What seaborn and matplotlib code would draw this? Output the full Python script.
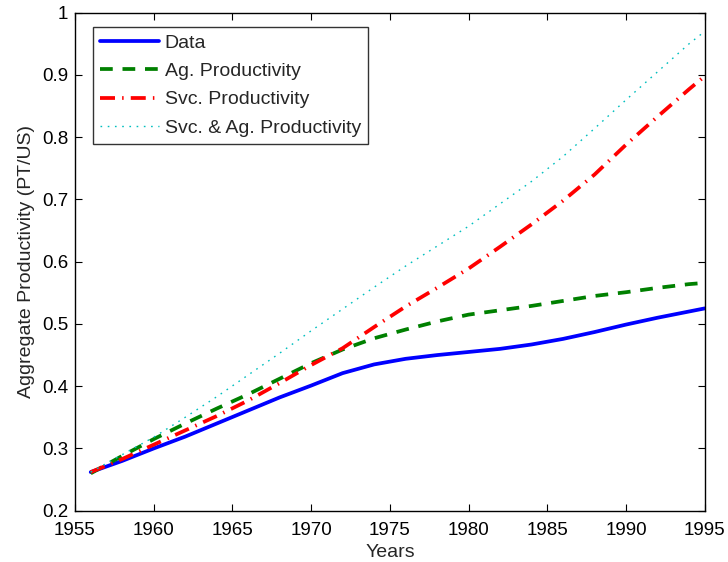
import matplotlib
matplotlib.use("Agg")
import matplotlib.pyplot as plt
import seaborn as sns
import pandas as pd

years = [1956, 1958, 1960, 1962, 1964, 1966, 1968, 1970, 1972, 1974, 1976,
         1978, 1980, 1982, 1984, 1986, 1988, 1990, 1992, 1994, 1995]

data = [0.262, 0.280, 0.300, 0.319, 0.340, 0.361, 0.382, 0.401, 0.421, 0.435, 0.444,
        0.450, 0.455, 0.460, 0.467, 0.476, 0.487, 0.499, 0.510, 0.520, 0.525]

ag_prod = [0.260, 0.288, 0.315, 0.340, 0.364, 0.387, 0.412, 0.437, 0.459, 0.477, 0.491,
           0.504, 0.515, 0.522, 0.529, 0.537, 0.545, 0.551, 0.558, 0.564, 0.566]

svc_prod = [0.262, 0.283, 0.306, 0.329, 0.352, 0.377, 0.405, 0.434, 0.461, 0.495, 0.528,
            0.558, 0.589, 0.624, 0.660, 0.698, 0.740, 0.788, 0.833, 0.877, 0.898]

svc_ag_prod = [0.262, 0.290, 0.318, 0.350, 0.383, 0.418, 0.453, 0.489, 0.524, 0.559, 0.593,
               0.625, 0.657, 0.693, 0.729, 0.769, 0.814, 0.860, 0.905, 0.950, 0.970]

labels = ["Data", "Ag. Productivity", "Svc. Productivity", "Svc. & Ag. Productivity"]
x_ticks = [1955, 1960, 1965, 1970, 1975, 1980, 1985, 1990, 1995]
y_ticks = [0.2, 0.3, 0.4, 0.5, 0.6, 0.7, 0.8, 0.9, 1.0]
y_tick_labels = ["0.2", "0.3", "0.4", "0.5", "0.6", "0.7", "0.8", "0.9", "1"]

sns.set_style("white")
plt.rcParams["font.family"] = ["Liberation Sans", "DejaVu Sans"]

fig = plt.figure(figsize=(7.28, 5.62), dpi=100)
ax = fig.add_axes([0.103, 0.0913, 0.865, 0.886])

series = [
    (data, dict(color=(0, 0, 1), linewidth=2.7, linestyle="-")),
    (ag_prod, dict(color=(0, 0.5, 0), linewidth=2.7, dashes=(3.4, 2.6))),
    (svc_prod, dict(color=(1, 0, 0), linewidth=2.7, dashes=(4.0, 1.9, 0.4, 1.9))),
    (svc_ag_prod, dict(color=(0, 0.75, 0.75), linewidth=1.0, dashes=(1.2, 4.0))),
]

for label, (values, style) in zip(labels, series):
    df = pd.DataFrame({"Years": years, "value": values})
    sns.lineplot(data=df, x="Years", y="value", ax=ax, label=label, **style)

ax.set_xlim(1955, 1995)
ax.set_ylim(0.2, 1.0)
ax.set_xticks(x_ticks)
ax.set_xticklabels([str(t) for t in x_ticks])
ax.set_yticks(y_ticks)
ax.set_yticklabels(y_tick_labels)
ax.set_xlabel("Years", fontsize=14, labelpad=4)
ax.set_ylabel("Aggregate Productivity (PT/US)", fontsize=14, labelpad=5)

ax.tick_params(axis="both", which="both", direction="in", length=5, width=0.8,
               top=True, right=True, bottom=True, left=True, labelsize=13.5,
               colors="black")
ax.tick_params(axis="x", pad=8)
ax.tick_params(axis="y", pad=5)
for spine in ax.spines.values():
    spine.set_visible(True)
    spine.set_color("black")
    spine.set_linewidth(1.0)

leg = ax.legend(loc="upper left", bbox_to_anchor=(0.0286, 0.972), fontsize=14,
                frameon=True, fancybox=False, handlelength=3.0, handletextpad=0.3,
                borderpad=0.38, labelspacing=0.55, borderaxespad=0.0)
leg.get_frame().set_edgecolor("black")
leg.get_frame().set_linewidth(1.0)

fig.savefig("out.png", dpi=100)
